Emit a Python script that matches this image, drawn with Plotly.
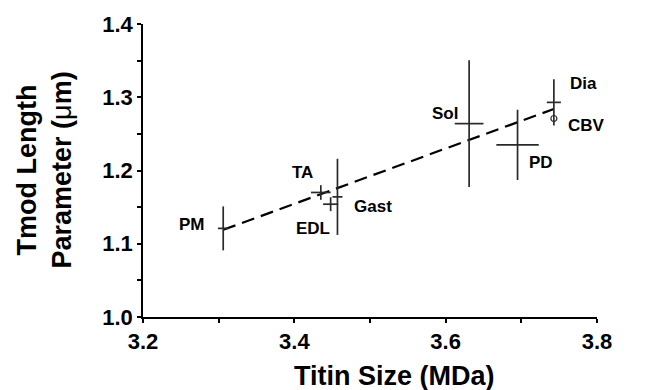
import plotly.graph_objects as go

# ---- data ----
muscles = ["PM", "TA", "EDL", "Gast", "Sol", "PD", "Dia"]
titin_mda = [3.306, 3.435, 3.448, 3.457, 3.631, 3.695, 3.743]
titin_err = [0.007, 0.013, 0.010, 0.0066, 0.019, 0.028, 0.0093]
tmod_um = [1.121, 1.170, 1.154, 1.164, 1.264, 1.235, 1.293]
tmod_err = [0.030, 0.010, 0.0095, 0.052, 0.0865, 0.048, 0.0317]

cbv_label = ["CBV"]
cbv_x = [3.743]
cbv_y = [1.271]

trend_x = [3.306, 3.743]
trend_y = [1.119, 1.284]

x_ticks = [3.2, 3.4, 3.6, 3.8]
y_ticks = [1.0, 1.1, 1.2, 1.3, 1.4]

x_title = "Titin Size (MDa)"
y_title = "Tmod Length<br>Parameter (<span style='font-weight:normal'>μ</span>m)"

# ---- label placement (style only) ----
label_style = {
    "PM": ("right", -16, 4),
    "TA": ("center", -18, 20),
    "EDL": ("center", -18, -24),
    "Gast": ("left", 15, -10),
    "Sol": ("right", -9, 10),
    "PD": ("left", 9, -18),
    "Dia": ("left", 14, 19),
    "CBV": ("left", 12, -7),
}

FONT = "Liberation Sans, Arial, sans-serif"
BAR = "#2a2a2a"

fig = go.Figure()

fig.add_trace(go.Scatter(
    x=trend_x, y=trend_y, mode="lines",
    line=dict(color="black", width=2.2, dash="13px,7px"),
    hoverinfo="skip", showlegend=False,
))

fig.add_trace(go.Scatter(
    x=titin_mda, y=tmod_um, mode="markers",
    marker=dict(size=2, color="rgba(0,0,0,0)"),
    error_y=dict(type="data", array=tmod_err, visible=True, color=BAR, thickness=1.7, width=0),
    error_x=dict(type="data", array=titin_err, visible=True, color=BAR, thickness=1.7, width=0),
    showlegend=False,
))

fig.add_trace(go.Scatter(
    x=cbv_x, y=cbv_y, mode="markers",
    marker=dict(symbol="circle-open", size=6, color=BAR, line=dict(width=1.2, color=BAR)),
    showlegend=False,
))

names = muscles + cbv_label
xs = titin_mda + cbv_x
ys = tmod_um + cbv_y
for n, x, y in zip(names, xs, ys):
    anchor, dx, dy = label_style[n]
    fig.add_annotation(
        x=x, y=y, text=n, showarrow=False,
        xanchor=anchor, yanchor="middle", xshift=dx, yshift=dy,
        font=dict(family=FONT, size=17, color="black", weight="bold"),
    )

# axis titles (placed as in the reference, x title sits right of centre)
fig.add_annotation(
    xref="paper", yref="paper", x=0.5, y=0, xshift=24, yshift=-59,
    xanchor="center", yanchor="middle", text=x_title, showarrow=False,
    font=dict(family=FONT, size=27, color="black", weight="bold"),
)
fig.add_annotation(
    xref="paper", yref="paper", x=0, y=0.5, xshift=-99, yshift=0,
    xanchor="center", yanchor="middle", text=y_title, showarrow=False, textangle=-90,
    font=dict(family=FONT, size=27, color="black", weight="bold"),
)

fig.update_layout(
    width=663, height=390,
    margin=dict(l=143, r=66, t=21, b=73),
    paper_bgcolor="white", plot_bgcolor="white",
    font=dict(family=FONT, color="black", weight="bold"),
    showlegend=False,
)

fig.update_xaxes(
    range=[3.2, 3.8], tickvals=x_ticks, ticktext=[f"{v:.1f}" for v in x_ticks],
    showgrid=False, zeroline=False,
    showline=True, linecolor="black", linewidth=1.5,
    ticks="outside", ticklen=4, tickwidth=1.5, tickcolor="black",
    minor=dict(dtick=0.1, tick0=3.2, ticks="outside", ticklen=4, tickwidth=1.5, tickcolor="black"),
    tickfont=dict(family=FONT, size=22, color="black", weight="bold"),
)

fig.update_yaxes(
    range=[1.0, 1.4], tickvals=y_ticks, ticktext=[f"{v:.1f}" for v in y_ticks],
    showgrid=False, zeroline=False,
    showline=True, linecolor="black", linewidth=1.5,
    ticks="outside", ticklen=4, tickwidth=1.5, tickcolor="black",
    minor=dict(dtick=0.05, tick0=1.0, ticks="outside", ticklen=4, tickwidth=1.5, tickcolor="black"),
    tickfont=dict(family=FONT, size=22, color="black", weight="bold"),
)

fig.write_html("out.html")
